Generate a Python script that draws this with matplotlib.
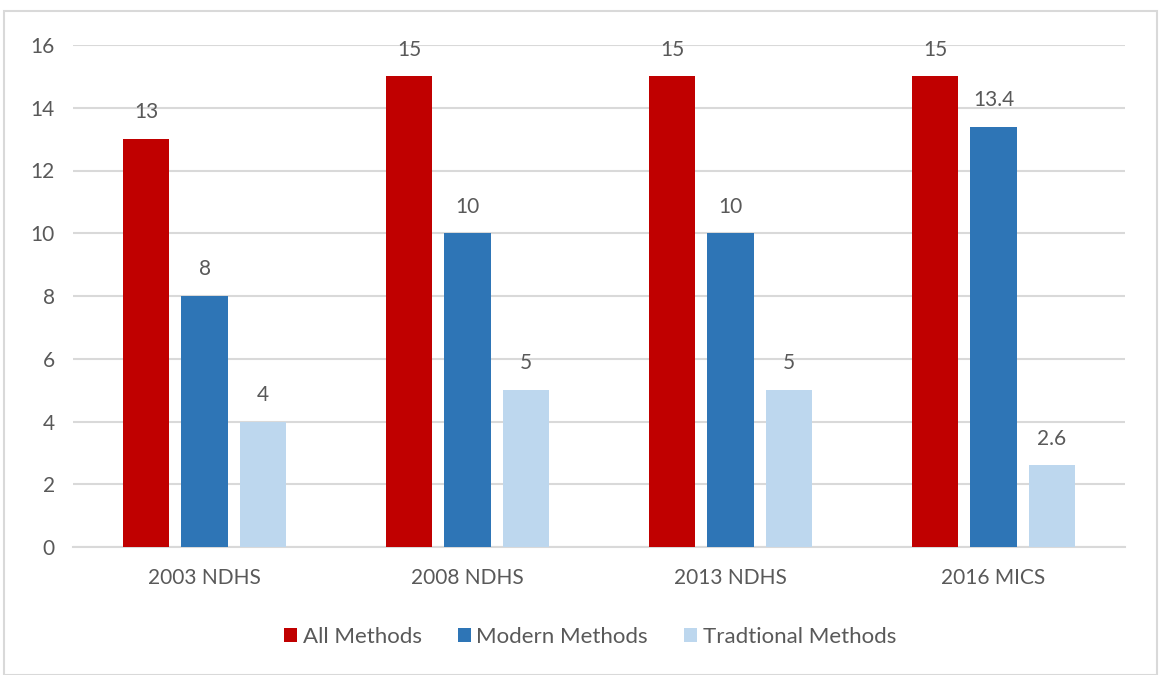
import matplotlib
matplotlib.use("Agg")
import matplotlib.pyplot as plt
from matplotlib.patches import Rectangle
import numpy as np

categories = ["2003 NDHS", "2008 NDHS", "2013 NDHS", "2016 MICS"]
all_methods = [13, 15, 15, 15]
modern_methods = [8, 10, 10, 13.4]
traditional_methods = [4, 5, 5, 2.6]
series_names = ["All Methods", "Modern Methods", "Tradtional Methods"]
colors = ["#C00000", "#2E75B6", "#BDD7EE"]
labels_all = ["13", "15", "15", "15"]
labels_mod = ["8", "10", "10", "13.4"]
labels_trad = ["4", "5", "5", "2.6"]

plt.rcParams['font.family'] = ['Lato', 'DejaVu Sans']
text_color = "#595959"

fig = plt.figure(figsize=(11.6, 6.75), dpi=100)
ax = fig.add_axes([73/1160, 1-547/675, (1125-73)/1160, (547-45)/675])

x = np.arange(len(categories))
w = 0.175
off = 0.222
series = [all_methods, modern_methods, traditional_methods]
lbls = [labels_all, labels_mod, labels_trad]
for i, (vals, name, c, lb) in enumerate(zip(series, series_names, colors, lbls)):
    bars = ax.bar(x + (i-1)*off, vals, w, color=c, label=name, zorder=3)
    for b, t in zip(bars, lb):
        ax.annotate(t, (b.get_x()+b.get_width()/2, b.get_height()),
                    xytext=(0, 12), textcoords="offset points",
                    ha="center", va="bottom", fontsize=15, color=text_color)

ax.set_xlim(-0.5, 3.5)
ax.set_ylim(0, 16)
ax.set_yticks(range(0, 17, 2))
ax.set_xticks(x)
ax.set_xticklabels(categories)
ax.yaxis.grid(True, color="#D9D9D9", linewidth=1.5, zorder=0)
ax.set_axisbelow(True)
for s in ["top", "right", "left"]:
    ax.spines[s].set_visible(False)
ax.spines["bottom"].set_color("#D9D9D9")
ax.spines["bottom"].set_linewidth(1.5)
ax.tick_params(axis="both", length=0, labelsize=15, colors=text_color)
ax.tick_params(axis="x", pad=15)
ax.tick_params(axis="y", pad=13)

leg = fig.legend(loc="center", bbox_to_anchor=(590/1160, 1-637/675), ncol=3,
                 frameon=False, fontsize=16, handlelength=0.6, handleheight=0.6,
                 handletextpad=0.25, columnspacing=1.6, labelcolor=text_color)

fig.patches.append(Rectangle((4/1160, 0), 1153/1160, 1-11/675, transform=fig.transFigure,
                             fill=False, edgecolor="#D9D9D9", linewidth=1.5))

fig.savefig("out.png", dpi=100)
